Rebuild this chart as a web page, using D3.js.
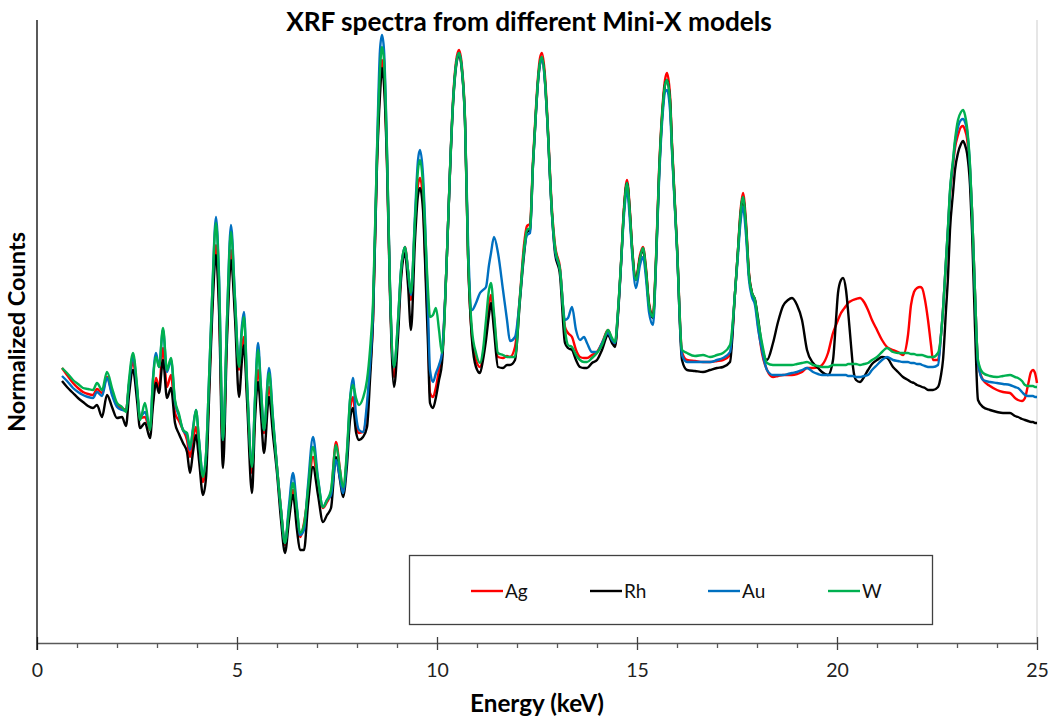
<!DOCTYPE html>
<html><head><meta charset="utf-8">
<script src="https://cdn.jsdelivr.net/npm/d3@7"></script>
<style>body{margin:0;background:#fff}svg{display:block}</style>
</head><body>
<svg id="c" width="1052" height="721"></svg>
<script>
// Energy axis (keV), shared by all four spectra
const energies=[0.625,0.75,0.9,1.025,1.15,1.275,1.4,1.5,1.625,1.75,1.875,2.0,2.125,2.225,2.3,2.4,2.5,2.575,2.7,2.825,2.9,2.975,3.05,3.15,3.25,3.35,3.45,3.55,3.65,3.75,3.825,3.9,3.975,4.05,4.15,4.225,4.3,4.375,4.475,4.55,4.65,4.75,4.85,4.95,5.05,5.125,5.175,5.25,5.375,5.45,5.525,5.6,5.675,5.8,5.9,6.0,6.1,6.2,6.3,6.4,6.5,6.575,6.675,6.775,6.9,7.025,7.15,7.25,7.35,7.475,7.575,7.65,7.75,7.825,7.9,7.975,8.05,8.15,8.25,8.325,8.4,8.5,8.575,8.625,8.675,8.75,8.825,8.925,9.025,9.1,9.2,9.275,9.35,9.45,9.525,9.575,9.65,9.7,9.775,9.825,9.9,9.975,10.05,10.125,10.25,10.325,10.4,10.475,10.55,10.625,10.7,10.775,10.875,10.975,11.075,11.15,11.225,11.3,11.35,11.425,11.525,11.65,11.75,11.825,11.95,12.075,12.175,12.25,12.325,12.4,12.475,12.525,12.575,12.625,12.7,12.75,12.875,12.95,13.075,13.2,13.275,13.375,13.475,13.575,13.675,13.75,13.875,14.0,14.125,14.275,14.375,14.45,14.525,14.6,14.675,14.75,14.825,14.875,14.975,15.075,15.15,15.225,15.3,15.4,15.475,15.55,15.65,15.7,15.75,15.825,15.875,16.0,16.125,16.25,16.45,16.65,16.825,17.0,17.15,17.325,17.45,17.525,17.575,17.65,17.725,17.8,17.875,17.95,18.025,18.125,18.25,18.4,18.525,18.65,18.775,18.875,19.0,19.125,19.25,19.4,19.525,19.625,19.775,19.9,19.975,20.025,20.1,20.15,20.225,20.275,20.35,20.4,20.475,20.575,20.675,20.775,20.875,21.0,21.125,21.25,21.4,21.525,21.65,21.775,21.85,21.925,22.0,22.075,22.125,22.2,22.275,22.35,22.4,22.525,22.6,22.65,22.725,22.775,22.825,22.9,22.95,23.025,23.1,23.15,23.2,23.25,23.325,23.375,23.45,23.525,23.65,23.825,24.0,24.15,24.325,24.45,24.525,24.625,24.7,24.775,24.85,24.9,24.95,25.0];

// Normalized counts (arbitrary units) for each anode model
const ag=[275,268,260,255,251,249,248,254,250,266,
250,238,235,233,258,281,253,225,226,213,
243,265,255,295,256,268,230,222,213,203,
186,203,216,193,161,178,253,333,398,343,
193,313,393,333,273,298,306,253,170,233,
273,243,210,256,218,176,133,98,131,153,
128,106,120,148,186,158,135,141,150,201,
173,153,188,233,246,218,210,211,233,273,
323,483,558,583,568,483,353,266,318,368,
396,371,343,418,458,465,443,390,313,250,
246,256,273,286,390,473,543,581,593,576,
525,390,306,283,276,288,313,338,348,325,
286,285,287,286,296,348,398,417,419,483,
536,566,585,590,567,533,433,398,375,316,
310,306,293,286,285,285,288,291,300,313,
303,298,331,380,436,463,431,398,365,388,
396,375,340,328,385,471,543,563,570,548,
500,398,291,283,282,281,281,282,283,288,
350,393,426,450,421,370,350,343,318,290,
273,266,267,268,268,268,269,271,275,275,
276,278,290,310,318,323,330,333,337,340,
342,343,344,345,341,333,323,313,303,296,
293,291,288,308,338,351,355,356,355,343,
323,298,283,283,308,333,381,413,448,478,
495,508,516,517,513,505,473,433,350,280,
263,257,253,251,250,245,243,242,245,258,
271,273,270,260];

const rh=[262,256,250,245,241,237,235,238,226,248,
236,225,226,217,248,273,243,215,220,205,
238,260,250,283,245,255,220,209,200,191,
170,191,208,183,148,165,243,323,388,333,
175,303,383,325,246,283,298,243,150,223,
261,228,190,246,208,170,123,90,123,148,
113,93,93,138,176,148,121,128,135,186,
163,146,178,223,235,211,203,206,216,263,
323,478,548,575,558,478,348,256,306,363,
390,358,313,403,448,455,433,383,298,240,
235,246,263,280,390,471,538,576,588,571,
521,388,303,276,270,283,303,328,340,313,
276,275,278,278,283,343,388,411,413,478,
531,561,579,585,561,528,428,390,368,300,
295,293,283,276,275,275,280,283,293,308,
300,296,328,378,433,460,428,396,363,385,
393,371,338,325,381,466,538,558,563,543,
496,396,283,273,272,271,273,275,276,281,
350,393,421,445,415,368,350,343,325,296,
283,300,321,337,343,345,338,323,293,280,
275,271,268,283,323,350,363,365,353,333,
298,276,263,261,266,273,279,283,286,285,
276,271,266,263,261,260,258,257,256,255,
253,253,253,256,268,283,333,366,413,450,
473,490,499,502,498,490,458,413,316,243,
236,233,231,230,230,227,226,224,223,222,
221,221,220,220];

const au=[267,262,255,251,248,246,245,251,247,265,
248,236,233,232,259,287,255,226,231,215,
265,290,276,313,271,283,241,227,213,208,
193,215,233,203,168,188,263,343,426,368,
203,323,418,345,278,318,331,263,178,245,
300,255,213,275,225,176,133,100,138,170,
135,108,113,158,206,165,136,143,148,183,
165,150,188,243,265,228,213,211,240,278,
330,493,593,608,593,493,356,276,321,373,
396,373,348,428,483,493,468,423,333,273,
261,270,278,290,390,473,540,578,590,573,
523,403,333,340,350,353,356,378,390,406,
390,353,323,302,306,346,391,408,410,478,
531,561,579,583,560,528,428,393,373,323,
325,336,313,303,306,300,291,291,300,310,
303,300,331,378,428,453,421,391,355,378,
386,365,331,318,378,461,533,551,553,533,
491,393,288,281,281,281,281,283,285,291,
350,388,415,436,408,363,346,338,315,293,
273,268,268,268,269,270,271,273,275,271,
269,268,268,268,268,268,268,268,268,267,
267,267,266,266,267,268,273,278,283,286,
283,282,281,281,280,280,279,279,278,277,
276,276,276,278,308,333,383,416,451,481,
500,516,523,524,521,513,476,433,350,280,
263,261,260,259,258,256,255,251,248,247,
247,247,246,246];

const w=[275,270,263,259,255,254,253,260,253,271,
255,240,236,231,263,290,258,223,240,213,
263,286,276,315,273,285,243,229,213,210,
196,213,233,203,166,188,263,343,420,363,
203,323,411,343,276,313,326,260,176,243,
293,253,213,270,223,176,133,100,133,160,
133,110,118,153,196,163,136,143,153,198,
173,156,193,243,258,245,238,245,263,293,
340,490,573,596,583,490,356,276,323,373,
396,373,350,423,473,483,458,416,353,326,
328,335,313,290,390,473,540,578,590,573,
523,390,313,290,280,293,323,353,360,330,
290,288,286,286,286,346,393,413,415,480,
533,563,581,586,563,530,430,396,373,313,
298,296,288,283,281,281,285,290,298,313,
305,301,333,380,433,460,428,396,363,385,
395,373,338,326,383,468,540,558,563,543,
496,396,293,290,287,288,286,288,290,298,
350,393,423,446,418,368,350,343,323,300,
280,278,278,278,278,278,279,280,281,278,
277,276,276,278,278,278,278,278,278,279,
279,279,279,278,279,280,283,286,291,295,
291,290,290,290,289,289,288,288,288,287,
286,286,286,290,308,333,383,416,453,483,
503,523,531,533,528,516,478,433,350,283,
270,267,266,267,268,266,265,262,258,257,
257,257,256,256];

const seriesNames=["Ag","Rh","Au","W"];
const seriesColors=["#FF0000","#000000","#0070C0","#00B050"];
const majorTicks=[0,5,10,15,20,25];
const minorTicks=[1,2,3,4,6,7,8,9,11,12,13,14,16,17,18,19,21,22,23,24];
const titleText="XRF spectra from different Mini-X models";
const xLabel="Energy (keV)";
const yLabel="Normalized Counts";

const svg=d3.select("#c");
const FONT="Lato, 'Open Sans', sans-serif";
const x=d3.scaleLinear().domain([0,25]).range([37,1037]);
const y=d3.scaleLinear().domain([0,623]).range([643,20]);

function fit(sel,target){
  const n=sel.node(); const fs=parseFloat(sel.attr("font-size"));
  const len=n.getComputedTextLength();
  if(len>0) sel.attr("font-size",fs*target/len);
}

// right border (light) and left axis
svg.append("line").attr("x1",x(25)).attr("x2",x(25)).attr("y1",y(623)).attr("y2",y(0)).attr("stroke","#d9d9d9").attr("stroke-width",1.3);

// minor ticks
const gMinor=svg.append("g").attr("transform",`translate(0,${y(0)})`)
  .call(d3.axisBottom(x).tickValues(minorTicks).tickSize(5).tickFormat(""));
gMinor.select(".domain").remove();
gMinor.selectAll("line").attr("stroke","#595959").attr("stroke-width",1.3);

const gMajor=svg.append("g").attr("transform",`translate(0,${y(0)})`)
  .call(d3.axisBottom(x).tickValues(majorTicks).tickSizeInner(7).tickSizeOuter(0).tickPadding(13));
gMajor.select(".domain").attr("stroke","#595959").attr("stroke-width",1.3);
gMajor.selectAll(".tick line").attr("y1",-6).attr("y2",7).attr("stroke","#404040").attr("stroke-width",1.3);
gMajor.selectAll(".tick text").attr("font-family",FONT).attr("font-size",19.5).attr("fill","#222");

svg.append("line").attr("x1",x(0)).attr("x2",x(0)).attr("y1",y(623)).attr("y2",y(0)+7).attr("stroke","#000").attr("stroke-width",1.3);

// spectra
const line=d3.line().x(d=>x(d[0])).y(d=>y(d[1])).curve(d3.curveMonotoneX);
[ag,rh,au,w].forEach((vals,i)=>{
  const pts=energies.map((e,k)=>[e,vals[k]]).filter(p=>p[1]!==undefined);
  svg.append("path").datum(pts).attr("d",line).attr("fill","none")
    .attr("stroke",seriesColors[i]).attr("stroke-width",2.4).attr("stroke-linejoin","round");
});

// title & labels
const t=svg.append("text").attr("x",529).attr("y",31).attr("text-anchor","middle")
  .attr("font-family",FONT).attr("font-weight","bold").attr("font-size",22).text(titleText);
fit(t,486);
const xl=svg.append("text").attr("x",537).attr("y",712).attr("text-anchor","middle")
  .attr("font-family",FONT).attr("font-weight","bold").attr("font-size",20).text(xLabel);
fit(xl,134);
const yl=svg.append("text").attr("transform","translate(25,332) rotate(-90)").attr("text-anchor","middle")
  .attr("font-family",FONT).attr("font-weight","bold").attr("font-size",20).text(yLabel);
fit(yl,200);

// legend
const lg=svg.append("g");
lg.append("rect").attr("x",409.5).attr("y",555.5).attr("width",523).attr("height",69)
  .attr("fill","#fff").attr("stroke","#404040").attr("stroke-width",1.3);
const legendX=[471,590,708,828];
seriesNames.forEach((nm,i)=>{
  lg.append("line").attr("x1",legendX[i]).attr("x2",legendX[i]+32).attr("y1",591).attr("y2",591)
    .attr("stroke",seriesColors[i]).attr("stroke-width",2.4);
  lg.append("text").attr("x",legendX[i]+34).attr("y",598).attr("font-family",FONT)
    .attr("font-size",19).attr("fill","#111").text(nm);
});
</script>
</body></html>
